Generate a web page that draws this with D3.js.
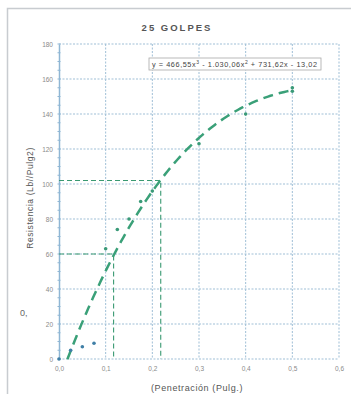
<!DOCTYPE html>
<html>
<head>
<meta charset="utf-8">
<script src="https://cdn.jsdelivr.net/npm/d3@7"></script>
<style>
  body { margin: 0; background: #fff; }
  text { font-family: "Liberation Sans", Arial, sans-serif; }
</style>
</head>
<body>
<div id="chart"></div>
<script>
// data
let penetration = [0, 0.025, 0.05, 0.075, 0.1, 0.125, 0.15, 0.175, 0.2, 0.3, 0.4, 0.5, 0.5];
let resistance  = [0, 5, 7, 9, 63, 74, 80, 90, 96, 123, 140, 155, 153];
let coef = [466.55, -1030.06, 731.62, -13.02]; // x^3, x^2, x, const
let refX = [0.117, 0.218];
let refY = [60, 102];
let xTicks = [0, 0.1, 0.2, 0.3, 0.4, 0.5, 0.6];
let yTicks = [0, 20, 40, 60, 80, 100, 120, 140, 160, 180];

let margin = { top: 44, bottom: 35, right: 12, left: 59 };
let W = 351, H = 394;
let w = W - margin.left - margin.right;
let h = H - margin.top - margin.bottom;

let svg = d3.select("#chart").append("svg")
    .attr("width", W)
    .attr("height", H);

// outer frame of the scanned chart
svg.append("path")
    .attr("d", "M7.5,394 L7.5,8.5 L351,8.5")
    .attr("fill", "none")
    .attr("stroke", "#c8ccd0")
    .attr("stroke-width", 1.5);

svg.append("text")
    .attr("x", 20).attr("y", 316)
    .attr("font-size", 9).attr("fill", "#666")
    .text("0,");

svg.append("text")
    .attr("x", 177).attr("y", 31)
    .attr("text-anchor", "middle")
    .attr("font-size", 9.5).attr("font-weight", "bold")
    .attr("letter-spacing", 2)
    .attr("fill", "#555")
    .text("25 GOLPES");

let g = svg.append("g")
    .attr("transform", `translate(${margin.left}, ${margin.top})`);

let x = d3.scaleLinear().domain([0, 0.6]).range([0, w]);
let y = d3.scaleLinear().domain([0, 180]).range([h, 0]);

// grid
g.append("g").selectAll("line").data(xTicks.slice(1)).join("line")
    .attr("x1", d => x(d)).attr("x2", d => x(d))
    .attr("y1", 0).attr("y2", h)
    .attr("stroke", "#9fbfd6").attr("stroke-width", 1)
    .attr("stroke-dasharray", "2,1.5");
g.append("g").selectAll("line").data(yTicks).join("line")
    .attr("x1", 0).attr("x2", w)
    .attr("y1", d => y(d)).attr("y2", d => y(d))
    .attr("stroke", "#9fbfd6").attr("stroke-width", 1)
    .attr("stroke-dasharray", "2,1.5");

// axes
let xAxis = d3.axisBottom(x).tickValues(xTicks).tickSize(0).tickPadding(7)
    .tickFormat(d => d3.format(".1f")(d).replace(".", ","));
let yAxis = d3.axisLeft(y).tickValues(yTicks).tickSize(0).tickPadding(6);

let gx = g.append("g").attr("transform", `translate(0, ${h})`).call(xAxis);
let gy = g.append("g").call(yAxis);
gx.select(".domain").remove();
gy.select(".domain").attr("stroke", "#8fb6d4").attr("stroke-width", 1.5);
[gx, gy].forEach(a => a.selectAll("text").attr("font-size", 6.5).attr("fill", "#8a8a8a")
    .attr("font-family", "Liberation Sans, Arial, sans-serif"));

// minor ticks on y axis
g.append("g").selectAll("line").data(d3.range(0, 181, 5)).join("line")
    .attr("x1", -1.5).attr("x2", 1.5)
    .attr("y1", d => y(d)).attr("y2", d => y(d))
    .attr("stroke", "#8fb6d4").attr("stroke-width", 1);

// reference dashed lines
refX.forEach((rx, i) => {
  g.append("path")
    .attr("d", `M${x(0)},${y(refY[i])} L${x(rx)},${y(refY[i])} L${x(rx)},${y(0)}`)
    .attr("fill", "none")
    .attr("stroke", "#3a9a72").attr("stroke-width", 1.1)
    .attr("stroke-dasharray", "5,3");
});

// polynomial trend line
let poly = t => coef[0] * t * t * t + coef[1] * t * t + coef[2] * t + coef[3];
let xs = d3.range(0.018, 0.5001, 0.005);
g.append("path")
    .datum(xs)
    .attr("d", d3.line().x(d => x(d)).y(d => y(poly(d))))
    .attr("fill", "none")
    .attr("stroke", "#3aa078").attr("stroke-width", 2.5)
    .attr("stroke-dasharray", "10,6");

// points
g.append("g").selectAll("circle").data(penetration).join("circle")
    .attr("cx", d => x(d))
    .attr("cy", (d, i) => y(resistance[i]))
    .attr("r", 1.8)
    .attr("fill", (d, i) => i < 4 ? "#3f7fa6" : "#3a9a78");

// equation box
let eq = svg.append("g").attr("transform", "translate(149, 58)");
eq.append("rect")
    .attr("width", 172).attr("height", 12)
    .attr("fill", "#fff").attr("stroke", "#a9a9a9").attr("stroke-width", 0.8);
let et = eq.append("text")
    .attr("x", 3).attr("y", 9)
    .attr("font-size", 7.3).attr("fill", "#444")
    .attr("textLength", 165).attr("lengthAdjust", "spacing");
et.append("tspan").text("y = 466,55x");
et.append("tspan").attr("dy", -3).attr("font-size", 5).text("3");
et.append("tspan").attr("dy", 3).text(" - 1.030,06x");
et.append("tspan").attr("dy", -3).attr("font-size", 5).text("2");
et.append("tspan").attr("dy", 3).text(" + 731,62x - 13,02");

// axis titles
svg.append("text")
    .attr("transform", "translate(33, 198) rotate(-90)")
    .attr("text-anchor", "middle")
    .attr("font-size", 8.5).attr("fill", "#555")
    .attr("letter-spacing", 0.6)
    .text("Resistencia  (Lb//Pulg2)");
svg.append("text")
    .attr("x", 197).attr("y", 391)
    .attr("text-anchor", "middle")
    .attr("font-size", 9).attr("fill", "#555")
    .attr("letter-spacing", 0.6)
    .text("(Penetración (Pulg.)");
</script>
</body>
</html>
